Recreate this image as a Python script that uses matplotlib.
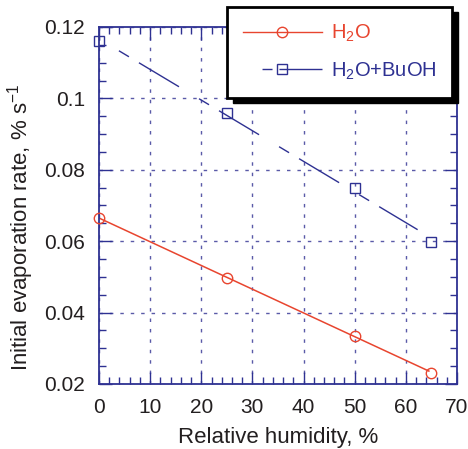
import numpy as np
import matplotlib
matplotlib.use("Agg")
import matplotlib.pyplot as plt
from matplotlib.lines import Line2D
from matplotlib.patches import Rectangle
from matplotlib.ticker import MultipleLocator, FuncFormatter

# data
humidity = [0, 25, 50, 65]
rate_h2o = [0.0665, 0.0498, 0.0334, 0.0232]
rate_buoh = [0.1161, 0.0958, 0.0748, 0.0599]
# x extent of the fitted lines
fit_x_h2o = [0, 64.5]
fit_x_buoh = [3.9, 62.3]

red = "#e8452f"
blue = "#2e3192"
txt = "#231f20"

plt.rcParams["font.family"] = "Liberation Sans"
plt.rcParams["mathtext.fontset"] = "custom"
plt.rcParams["mathtext.rm"] = "Liberation Sans"
plt.rcParams["mathtext.it"] = "Liberation Sans:italic"

fig = plt.figure(figsize=(4.68, 4.49), dpi=100)
ax = fig.add_axes([0.2115, 0.1448, 0.765, 0.7951])

# linear fits
xs = np.array(fit_x_h2o)
p = np.polyfit(humidity, rate_h2o, 1)
ax.plot(xs, np.polyval(p, xs), color=red, lw=1.1)
xs = np.array(fit_x_buoh)
p = np.polyfit(humidity, rate_buoh, 1)
ax.plot(xs, np.polyval(p, xs), color=blue, lw=1.0,
        linestyle=(0, (8.4, 8.4, 33.6, 16.8)))

# points
ax.plot(humidity, rate_h2o, "o", mfc="none", mec=red, ms=7.5, mew=1,
        clip_on=False, zorder=4)
ax.plot(humidity, rate_buoh, "s", mfc="none", mec=blue, ms=7, mew=1,
        clip_on=False, zorder=4)

ax.set_xlim(0, 70)
ax.set_ylim(0.02, 0.12)
ax.xaxis.set_major_locator(MultipleLocator(10))
ax.xaxis.set_minor_locator(MultipleLocator(2))
ax.yaxis.set_major_locator(MultipleLocator(0.02))
ax.yaxis.set_minor_locator(MultipleLocator(0.005))
ax.yaxis.set_major_formatter(FuncFormatter(lambda v, pos: "%g" % round(v, 3)))

ax.set_axisbelow(True)
ax.grid(True, which="major", color="#5a5aa8", lw=1, linestyle=(0, (2.5, 5)))

for s in ax.spines.values():
    s.set_color(blue)
    s.set_linewidth(1.3)
ax.tick_params(which="both", direction="in", top=True, right=True,
               color=blue, width=1, labelsize=15, labelcolor=txt)
ax.tick_params(which="major", length=9)
ax.tick_params(which="minor", length=5)
ax.tick_params(axis="x", pad=10)
ax.tick_params(axis="y", pad=10)

ax.set_xlabel("Relative humidity, %", fontsize=16, color=txt, labelpad=7)
ax.set_ylabel("Initial evaporation rate, % s$^{-1}$", fontsize=16, color=txt)
ax.yaxis.set_label_coords(-0.176, 0.44)

# legend with a black drop shadow
h1 = Line2D([], [], color=red, lw=1, marker="o", mfc="none", mec=red, ms=7.5)
h2 = Line2D([], [], color=blue, lw=1, linestyle=(46.8, (7.2, 5, 31, 17.3)),
            marker="s", mfc="none", mec=blue, ms=7)
leg = fig.legend([h1, h2], ["H$_2$O", "H$_2$O+BuOH"], loc="upper left",
                 bbox_to_anchor=(227 / 468, 1 - 7 / 449), borderaxespad=0,
                 fontsize=14.5, handlelength=3.9, handletextpad=0.45,
                 borderpad=0.8, labelspacing=0.8, fancybox=False,
                 edgecolor="k", framealpha=1)
leg.get_frame().set_linewidth(2)
for t, c in zip(leg.get_texts(), [red, blue]):
    t.set_color(c)

fig.canvas.draw()
bb = leg.get_window_extent().transformed(fig.transFigure.inverted())
fig.add_artist(Rectangle((bb.x0 + 6 / 468, bb.y0 - 5 / 449), bb.width, bb.height,
                         transform=fig.transFigure, color="k", zorder=4.5))

fig.savefig("out.png", dpi=100)
